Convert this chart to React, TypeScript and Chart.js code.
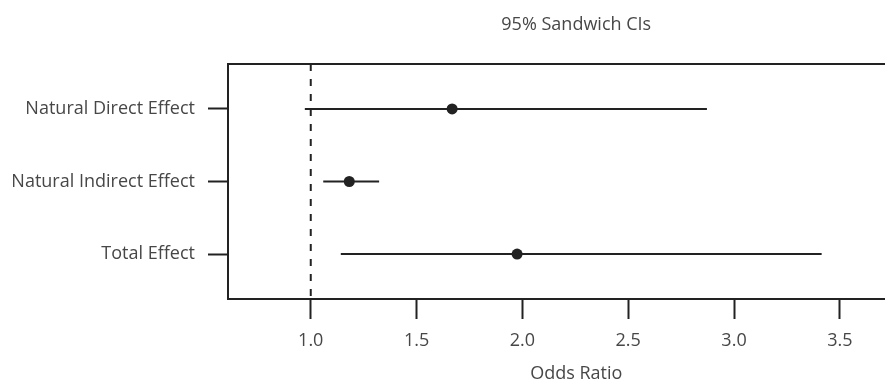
import React, { useEffect, useRef } from "react";
import { Chart, registerables } from "chart.js";
Chart.register(...registerables);

const categories = ["Natural Direct Effect", "Natural Indirect Effect", "Total Effect"];
const estimates = [1.668, 1.182, 1.975];
const lowerCI = [0.972, 1.059, 1.142];
const upperCI = [2.872, 1.323, 3.414];
const xTickValues = [1.0, 1.5, 2.0, 2.5, 3.0, 3.5];
const referenceValue = 1;
const chartTitle = "95% Sandwich CIs";
const xAxisTitle = "Odds Ratio";

const X_MIN = 0.609;
const X_MAX = 3.9;
const Y_MIN = 0.38;
const Y_MAX = 3.62;

const FONT = "'Open Sans', 'Noto Sans', sans-serif";
const TEXT = "#474747";
const INK = "#222222";

const boxPlugin = {
  id: "boxPlugin",
  afterDatasetsDraw(chart: any) {
    const { ctx, chartArea } = chart;
    ctx.save();
    ctx.strokeStyle = INK;
    ctx.lineWidth = 2;
    ctx.strokeRect(chartArea.left, chartArea.top, chartArea.right - chartArea.left, chartArea.bottom - chartArea.top);
    ctx.restore();
  },
  afterDraw(chart: any) {
    const { ctx, chartArea } = chart;
    ctx.save();
    ctx.fillStyle = TEXT;
    ctx.font = `18px ${FONT}`;
    ctx.textAlign = "center";
    ctx.textBaseline = "middle";
    ctx.fillText(chartTitle, (chartArea.left + chartArea.right) / 2, 25);
    ctx.restore();
  },
};

export default function App() {
  const ref = useRef<HTMLCanvasElement | null>(null);
  useEffect(() => {
    if (!ref.current) return;
    const ciSets = categories.map((c, i) => ({
      label: c + " CI",
      data: [
        { x: lowerCI[i], y: i + 1 },
        { x: upperCI[i], y: i + 1 },
      ],
      showLine: true,
      borderColor: INK,
      borderWidth: 2,
      pointRadius: 0,
      order: 2,
    }));
    const chart = new Chart(ref.current, {
      type: "scatter",
      data: {
        datasets: [
          {
            label: "reference",
            data: [
              { x: referenceValue, y: Y_MIN },
              { x: referenceValue, y: Y_MAX },
            ],
            showLine: true,
            borderColor: INK,
            borderWidth: 2,
            borderDash: [7, 8],
            pointRadius: 0,
            order: 3,
          },
          ...ciSets,
          {
            label: "estimate",
            data: estimates.map((e, i) => ({ x: e, y: i + 1 })),
            pointRadius: 5.5,
            pointHoverRadius: 5.5,
            backgroundColor: INK,
            borderWidth: 0,
            order: 1,
          },
        ],
      },
      options: {
        responsive: false,
        animation: false,
        devicePixelRatio: 1,
        layout: { padding: { top: 64, left: 0, right: 0, bottom: 0 } },
        plugins: { legend: { display: false }, tooltip: { enabled: false }, title: { display: false } },
        scales: {
          x: {
            type: "linear",
            min: X_MIN,
            max: X_MAX,
            afterBuildTicks: (s: any) => {
              s.ticks = xTickValues.map((v) => ({ value: v }));
            },
            afterFit: (s: any) => {
              s.height = 85;
            },
            border: { display: false },
            grid: { display: true, drawOnChartArea: false, drawTicks: true, tickLength: 20, tickColor: INK, tickWidth: 2 },
            ticks: {
              color: TEXT,
              font: { family: FONT, size: 18 },
              padding: 11,
              maxRotation: 0,
              autoSkip: false,
              callback: (v: any) => Number(v).toFixed(1),
            },
            title: { display: true, text: xAxisTitle, color: TEXT, font: { family: FONT, size: 18 }, padding: { top: 0, bottom: -1 } },
          },
          y: {
            type: "linear",
            min: Y_MIN,
            max: Y_MAX,
            reverse: true,
            afterBuildTicks: (s: any) => {
              s.ticks = categories.map((_, i) => ({ value: i + 1 }));
            },
            afterFit: (s: any) => {
              s.width = 228;
            },
            border: { display: false },
            grid: { display: true, drawOnChartArea: false, drawTicks: true, tickLength: 20, tickColor: INK, tickWidth: 2 },
            ticks: {
              color: TEXT,
              font: { family: FONT, size: 18 },
              padding: 13,
              autoSkip: false,
              callback: (v: any) => categories[Math.round(Number(v)) - 1] ?? "",
            },
          },
        },
      },
      plugins: [boxPlugin],
    });
    return () => chart.destroy();
  }, []);
  return (
    <div style={{ position: "fixed", left: 0, top: 0, width: 885, height: 384, overflow: "hidden", background: "#fff" }}>
      <canvas ref={ref} width={930} height={384} style={{ display: "block" }} />
    </div>
  );
}
